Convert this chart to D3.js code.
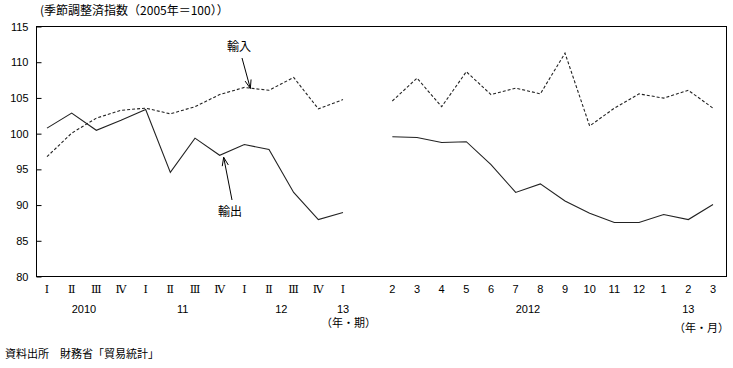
<!DOCTYPE html>
<html><head><meta charset="utf-8">
<script src="https://cdn.jsdelivr.net/npm/d3@7"></script>
<style>
body{margin:0;background:#fff;}
svg{display:block;font-family:"Liberation Sans",Arial,sans-serif;}
.jp{font-family:"Noto Sans CJK JP","Noto Sans CJK SC",sans-serif;}
</style></head>
<body><svg id="c" width="733" height="368"></svg>
<script>
// Categories: 13 quarters, one gap slot, 14 months
const categories = ["Ⅰ","Ⅱ","Ⅲ","Ⅳ","Ⅰ","Ⅱ","Ⅲ","Ⅳ","Ⅰ","Ⅱ","Ⅲ","Ⅳ","Ⅰ","",
  "2","3","4","5","6","7","8","9","10","11","12","1","2","3"];
const romanFlags = categories.map((c,i)=>i<13);
const exportsIdx = [100.7,102.8,100.4,101.8,103.3,94.5,99.3,96.9,98.4,97.7,91.7,87.9,88.9,null,
  99.5,99.4,98.7,98.8,95.6,91.7,92.9,90.5,88.8,87.5,87.5,88.6,87.9,90.0];
const importsIdx = [96.7,100.0,102.1,103.2,103.5,102.7,103.7,105.4,106.4,106.0,107.8,103.4,104.7,null,
  104.5,107.7,103.7,108.6,105.4,106.3,105.5,111.2,101.0,103.5,105.5,104.9,106.0,103.5];
const yTicks = [80,85,90,95,100,105,110,115];
const yearLabels = ["2010","11","12","13","2012","13"];
const yearAt = [1.5,5.5,9.5,12,19.5,26];
const unitLabels = ["（年・期）","（年・月）"];
const title = "(季節調整済指数（2005年＝100））";
const source = "資料出所　財務省「貿易統計」";

const svg = d3.select("#c");
const frame = {l:36, r:726, t:26, b:276};
const x = d3.scalePoint().domain(d3.range(categories.length)).range([47,713]);
const y = d3.scaleLinear().domain([80,115]).range([frame.b, frame.t]);

// frame
svg.append("rect").attr("x",frame.l+0.5).attr("y",frame.t+0.5)
  .attr("width",frame.r-frame.l).attr("height",frame.b-frame.t)
  .attr("fill","none").attr("stroke","#000").attr("stroke-width",1);

// y axis
const yAxis = d3.axisLeft(y).tickValues(yTicks).tickSize(-5).tickPadding(8);
const ga = svg.append("g").attr("transform",`translate(${frame.l+0.5},0.5)`).call(yAxis);
ga.select(".domain").remove();
ga.selectAll("text").attr("font-size",11).attr("fill","#000").attr("font-family","Liberation Sans, Arial, sans-serif");
ga.selectAll("line").attr("stroke","#000");

// x category labels
svg.append("g").selectAll("text").data(categories).join("text")
  .attr("x",(d,i)=>x(i)).attr("y",293)
  .attr("text-anchor","middle")
  .attr("font-size",11)
  .attr("font-family",(d,i)=>romanFlags[i]?"DejaVu Serif, serif":"Liberation Sans, Arial, sans-serif")
  .attr("fill","#000").text(d=>d);

// year labels
svg.append("g").selectAll("text").data(yearLabels).join("text")
  .attr("x",(d,i)=>x(0)+(x(1)-x(0))*yearAt[i]).attr("y",313)
  .attr("text-anchor","middle").attr("font-size",11).attr("fill","#000").text(d=>d);

// unit labels (right-aligned)
svg.append("g").selectAll("text").data(unitLabels).join("text")
  .attr("class","jp")
  .attr("x",(d,i)=>i===0?376:729).attr("y",(d,i)=>i===0?327:332)
  .attr("text-anchor","end").attr("font-size",11).attr("fill","#000").text(d=>d);

// lines
const line = d3.line().defined(d=>d!=null).x((d,i)=>x(i)).y(d=>y(d));
svg.append("path").datum(exportsIdx).attr("d",line)
  .attr("fill","none").attr("stroke","#222").attr("stroke-width",1.1);
svg.append("path").datum(importsIdx).attr("d",line)
  .attr("fill","none").attr("stroke","#222").attr("stroke-width",1.1)
  .attr("stroke-dasharray","3,2");

// annotations
function arrow(x1,y1,x2,y2){
  svg.append("line").attr("x1",x1).attr("y1",y1).attr("x2",x2).attr("y2",y2)
    .attr("stroke","#000").attr("stroke-width",1);
  const a = Math.atan2(y2-y1,x2-x1), L=9, w=0.35;
  const p1=[x2-L*Math.cos(a-w),y2-L*Math.sin(a-w)], p2=[x2-L*Math.cos(a+w),y2-L*Math.sin(a+w)];
  svg.append("path").attr("d",`M${p1}L${x2},${y2}L${p2}`).attr("fill","none")
    .attr("stroke","#000").attr("stroke-width",1);
}
arrow(242,58,x(8)+6,y(importsIdx[8])+1);
svg.append("text").attr("class","jp").attr("x",239).attr("y",51).attr("text-anchor","middle")
  .attr("font-size",12).text("輸入");
arrow(232,200,x(7)+4,y(exportsIdx[7])+2);
svg.append("text").attr("class","jp").attr("x",230).attr("y",216).attr("text-anchor","middle")
  .attr("font-size",12).text("輸出");

// title & source
svg.append("text").attr("class","jp").attr("x",40).attr("y",15).attr("font-size",12).text(title);
svg.append("text").attr("class","jp").attr("x",5).attr("y",358).attr("font-size",11).text(source);
</script></body></html>
